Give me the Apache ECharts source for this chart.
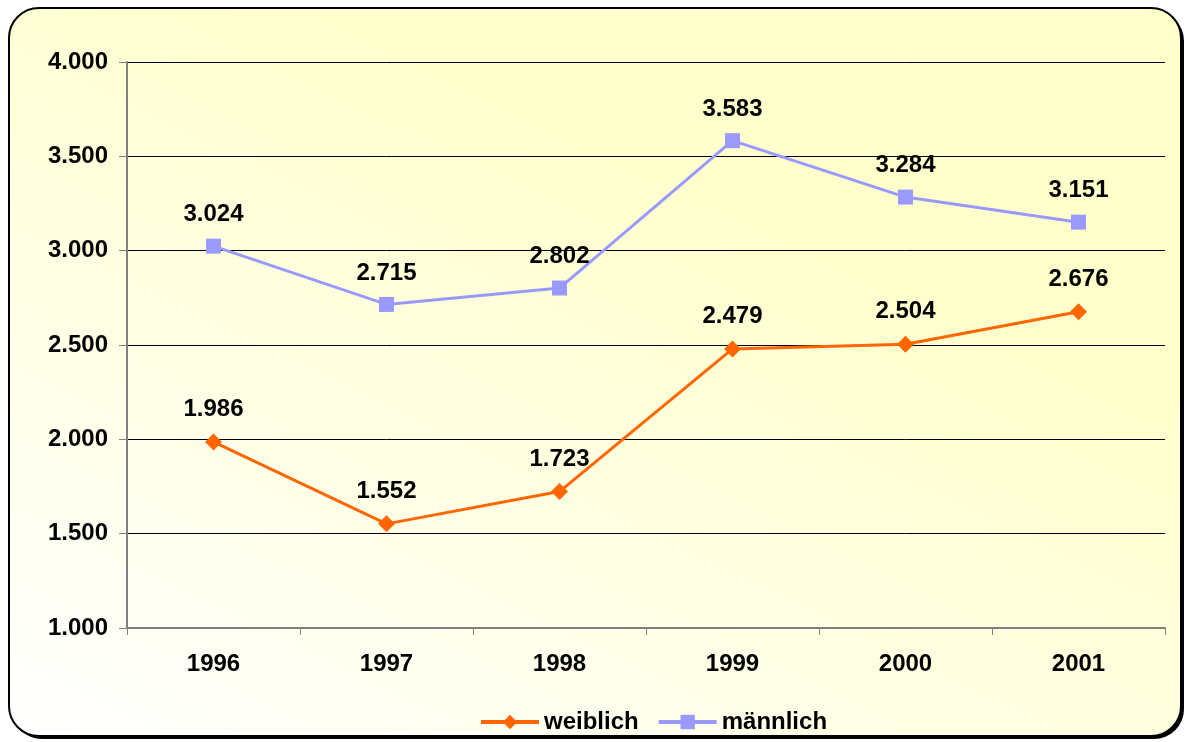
<!DOCTYPE html>
<html>
<head>
<meta charset="utf-8">
<script src="https://cdn.jsdelivr.net/npm/echarts@6/dist/echarts.min.js"></script>
<style>
  html, body { margin: 0; padding: 0; background: #fff; }
  #chart { width: 1193px; height: 742px; }
</style>
</head>
<body>
<div id="chart"></div>
<script>
// Daten
const years = ['1996', '1997', '1998', '1999', '2000', '2001']
const weiblich = [1986, 1552, 1723, 2479, 2504, 2676]
const maennlich = [3024, 2715, 2802, 3583, 3284, 3151]

// Tausenderpunkt wie im Original
const fmt = (v) => {
  const s = String(Math.round(v))
  return s.length > 3 ? s.slice(0, -3) + '.' + s.slice(-3) : s
}

const chart = echarts.init(document.getElementById('chart'))
const font = 'Liberation Sans, Arial, sans-serif'
const labelStyle = {
  fontSize: 24,
  fontWeight: 'bold',
  color: '#000',
  fontFamily: font,
}

const option = {
  animation: false,
  textStyle: { fontFamily: font },
  graphic: [
    // Schatten
    {
      type: 'rect',
      z: -11,
      silent: true,
      shape: { x: 12, y: 11, width: 1172, height: 728, r: 30 },
      style: { fill: '#000' },
    },
    // Rahmen mit Verlauf
    {
      type: 'rect',
      z: -10,
      silent: true,
      shape: { x: 9, y: 8, width: 1172, height: 728, r: 30 },
      style: {
        fill: new echarts.graphic.LinearGradient(0.3, 0, 0, 1, [
          { offset: 0, color: '#FFFFCC' },
          { offset: 1, color: '#FFFFFF' },
        ]),
        stroke: '#000',
        lineWidth: 2,
      },
    },
  ],
  grid: {
    left: 127,
    right: 28,
    top: 62,
    bottom: 114,
  },
  legend: {
    top: 705,
    left: 474,
    itemWidth: 58,
    itemHeight: 18,
    itemGap: 18,
    lineStyle: { width: 4 },
    textStyle: labelStyle,
    data: ['weiblich', 'männlich'],
  },
  xAxis: {
    type: 'category',
    data: years,
    boundaryGap: true,
    axisLine: { lineStyle: { color: '#808080', width: 2 } },
    axisTick: { show: true, length: 7, lineStyle: { color: '#808080', width: 1 } },
    axisLabel: Object.assign({ margin: 24 }, labelStyle),
  },
  yAxis: {
    type: 'value',
    min: 1000,
    max: 4000,
    interval: 500,
    axisLine: { show: true, lineStyle: { color: '#808080', width: 2 } },
    axisTick: { show: true, length: 8, lineStyle: { color: '#808080' } },
    splitLine: { lineStyle: { color: '#000', width: 1 } },
    axisLabel: Object.assign({ margin: 19, formatter: fmt }, labelStyle),
  },
  series: [
    {
      name: 'weiblich',
      type: 'line',
      data: weiblich,
      symbol: 'diamond',
      symbolSize: 17,
      color: '#FF6600',
      lineStyle: { width: 3, color: '#FF6600' },
      itemStyle: { color: '#FF6600' },
      label: Object.assign({
        show: true,
        position: 'top',
        distance: 12,
        formatter: (p) => fmt(p.value),
      }, labelStyle),
    },
    {
      name: 'männlich',
      type: 'line',
      data: maennlich,
      symbol: 'rect',
      symbolSize: 15,
      color: '#9999FF',
      lineStyle: { width: 3, color: '#9999FF' },
      itemStyle: { color: '#9999FF' },
      label: Object.assign({
        show: true,
        position: 'top',
        distance: 12,
        formatter: (p) => fmt(p.value),
      }, labelStyle),
    },
  ],
}

chart.setOption(option)
</script>
</body>
</html>
